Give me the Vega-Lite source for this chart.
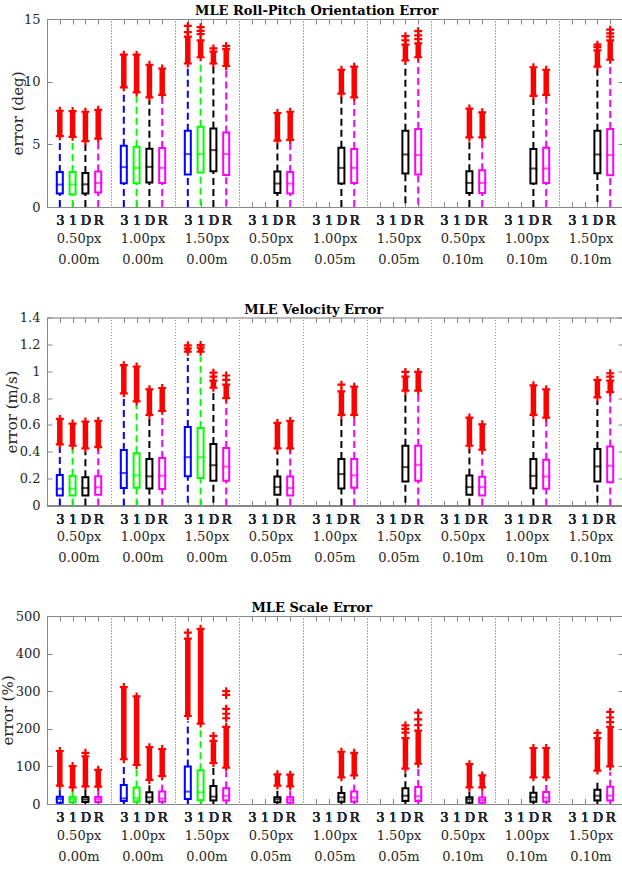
{
  "$schema": "https://vega.github.io/schema/vega-lite/v6.json",
  "background": "white",
  "padding": {"left": 0, "top": 5, "right": 0, "bottom": 0},
  "datasets": {
    "boxes": [
      {"p":"rp","g":"0.50px|0.00m","m":"3","lo":0,"q1":1.07,"med":1.79,"q3":2.8,"hi":5.4,"o1":5.65,"o2":7.68,"pts":[]},
      {"p":"rp","g":"0.50px|0.00m","m":"1","lo":0,"q1":1.0,"med":1.79,"q3":2.8,"hi":5.35,"o1":5.6,"o2":7.65,"pts":[]},
      {"p":"rp","g":"0.50px|0.00m","m":"D","lo":0,"q1":1.07,"med":1.81,"q3":2.72,"hi":5.0,"o1":5.25,"o2":7.6,"pts":[]},
      {"p":"rp","g":"0.50px|0.00m","m":"R","lo":0,"q1":1.15,"med":1.92,"q3":2.83,"hi":5.2,"o1":5.45,"o2":7.75,"pts":[]},
      {"p":"rp","g":"1.00px|0.00m","m":"3","lo":0,"q1":1.9,"med":3.18,"q3":4.88,"hi":9.3,"o1":9.55,"o2":12.15,"pts":[]},
      {"p":"rp","g":"1.00px|0.00m","m":"1","lo":0,"q1":1.9,"med":3.12,"q3":4.8,"hi":8.9,"o1":9.15,"o2":12.15,"pts":[]},
      {"p":"rp","g":"1.00px|0.00m","m":"D","lo":0,"q1":1.95,"med":3.2,"q3":4.64,"hi":8.5,"o1":8.75,"o2":11.35,"pts":[]},
      {"p":"rp","g":"1.00px|0.00m","m":"R","lo":0,"q1":1.92,"med":3.12,"q3":4.7,"hi":8.7,"o1":8.95,"o2":11.05,"pts":[]},
      {"p":"rp","g":"1.50px|0.00m","m":"3","lo":0,"q1":2.59,"med":4.22,"q3":6.08,"hi":11.2,"o1":11.45,"o2":13.6,"pts":[13.95,14.45]},
      {"p":"rp","g":"1.50px|0.00m","m":"1","lo":0.1,"q1":2.75,"med":4.22,"q3":6.4,"hi":11.7,"o1":11.95,"o2":13.3,"pts":[13.8,14.05,14.35]},
      {"p":"rp","g":"1.50px|0.00m","m":"D","lo":0,"q1":2.86,"med":4.54,"q3":6.27,"hi":11.2,"o1":11.45,"o2":12.4,"pts":[12.65]},
      {"p":"rp","g":"1.50px|0.00m","m":"R","lo":0.05,"q1":2.56,"med":4.22,"q3":5.95,"hi":11.0,"o1":11.25,"o2":12.6,"pts":[12.85]},
      {"p":"rp","g":"0.50px|0.05m","m":"D","lo":0,"q1":1.12,"med":1.87,"q3":2.83,"hi":5.05,"o1":5.3,"o2":7.5,"pts":[]},
      {"p":"rp","g":"0.50px|0.05m","m":"R","lo":0,"q1":1.07,"med":1.87,"q3":2.8,"hi":5.1,"o1":5.35,"o2":7.6,"pts":[]},
      {"p":"rp","g":"1.00px|0.05m","m":"D","lo":0,"q1":1.87,"med":3.12,"q3":4.72,"hi":8.8,"o1":9.05,"o2":10.95,"pts":[]},
      {"p":"rp","g":"1.00px|0.05m","m":"R","lo":0,"q1":1.92,"med":3.12,"q3":4.62,"hi":8.5,"o1":8.75,"o2":11.2,"pts":[]},
      {"p":"rp","g":"1.50px|0.05m","m":"D","lo":0.3,"q1":2.67,"med":4.19,"q3":6.08,"hi":11.45,"o1":11.7,"o2":12.95,"pts":[13.3,13.63]},
      {"p":"rp","g":"1.50px|0.05m","m":"R","lo":0.2,"q1":2.59,"med":4.14,"q3":6.22,"hi":11.7,"o1":11.95,"o2":13.05,"pts":[13.4,13.7,14.03]},
      {"p":"rp","g":"0.50px|0.10m","m":"D","lo":0,"q1":1.12,"med":1.92,"q3":2.86,"hi":5.3,"o1":5.55,"o2":7.85,"pts":[]},
      {"p":"rp","g":"0.50px|0.10m","m":"R","lo":0,"q1":1.12,"med":1.92,"q3":2.94,"hi":5.3,"o1":5.55,"o2":7.55,"pts":[]},
      {"p":"rp","g":"1.00px|0.10m","m":"D","lo":0,"q1":1.87,"med":3.07,"q3":4.62,"hi":8.62,"o1":8.87,"o2":11.15,"pts":[]},
      {"p":"rp","g":"1.00px|0.10m","m":"R","lo":0,"q1":1.92,"med":3.07,"q3":4.72,"hi":8.7,"o1":8.95,"o2":10.95,"pts":[]},
      {"p":"rp","g":"1.50px|0.10m","m":"D","lo":0.4,"q1":2.7,"med":4.19,"q3":6.08,"hi":10.94,"o1":11.2,"o2":12.5,"pts":[12.75,12.95]},
      {"p":"rp","g":"1.50px|0.10m","m":"R","lo":0,"q1":2.54,"med":4.14,"q3":6.22,"hi":11.5,"o1":11.75,"o2":13.3,"pts":[13.6,13.85,14.15]},

      {"p":"vel","g":"0.50px|0.00m","m":"3","lo":0,"q1":0.075,"med":0.125,"q3":0.227,"hi":0.43,"o1":0.455,"o2":0.645,"pts":[]},
      {"p":"vel","g":"0.50px|0.00m","m":"1","lo":0,"q1":0.075,"med":0.125,"q3":0.222,"hi":0.42,"o1":0.445,"o2":0.61,"pts":[]},
      {"p":"vel","g":"0.50px|0.00m","m":"D","lo":0,"q1":0.075,"med":0.13,"q3":0.21,"hi":0.4,"o1":0.425,"o2":0.625,"pts":[]},
      {"p":"vel","g":"0.50px|0.00m","m":"R","lo":0,"q1":0.08,"med":0.135,"q3":0.217,"hi":0.41,"o1":0.435,"o2":0.63,"pts":[]},
      {"p":"vel","g":"1.00px|0.00m","m":"3","lo":0,"q1":0.13,"med":0.242,"q3":0.414,"hi":0.81,"o1":0.835,"o2":1.045,"pts":[]},
      {"p":"vel","g":"1.00px|0.00m","m":"1","lo":0,"q1":0.132,"med":0.224,"q3":0.39,"hi":0.75,"o1":0.775,"o2":1.035,"pts":[]},
      {"p":"vel","g":"1.00px|0.00m","m":"D","lo":0,"q1":0.127,"med":0.217,"q3":0.346,"hi":0.65,"o1":0.675,"o2":0.865,"pts":[]},
      {"p":"vel","g":"1.00px|0.00m","m":"R","lo":0,"q1":0.122,"med":0.222,"q3":0.354,"hi":0.68,"o1":0.705,"o2":0.875,"pts":[]},
      {"p":"vel","g":"1.50px|0.00m","m":"3","lo":0.02,"q1":0.217,"med":0.36,"q3":0.585,"hi":1.1,"o1":1.145,"o2":1.17,"pts":[1.193]},
      {"p":"vel","g":"1.50px|0.00m","m":"1","lo":0,"q1":0.204,"med":0.36,"q3":0.578,"hi":1.11,"o1":1.145,"o2":1.175,"pts":[1.195]},
      {"p":"vel","g":"1.50px|0.00m","m":"D","lo":0.02,"q1":0.184,"med":0.3,"q3":0.458,"hi":0.85,"o1":0.877,"o2":0.93,"pts":[0.96,0.989]},
      {"p":"vel","g":"1.50px|0.00m","m":"R","lo":0,"q1":0.184,"med":0.29,"q3":0.428,"hi":0.775,"o1":0.8,"o2":0.9,"pts":[0.935,0.968]},
      {"p":"vel","g":"0.50px|0.05m","m":"D","lo":0,"q1":0.08,"med":0.137,"q3":0.216,"hi":0.4,"o1":0.425,"o2":0.615,"pts":[]},
      {"p":"vel","g":"0.50px|0.05m","m":"R","lo":0,"q1":0.075,"med":0.13,"q3":0.216,"hi":0.4,"o1":0.425,"o2":0.63,"pts":[]},
      {"p":"vel","g":"1.00px|0.05m","m":"D","lo":0,"q1":0.127,"med":0.234,"q3":0.346,"hi":0.65,"o1":0.675,"o2":0.85,"pts":[0.9]},
      {"p":"vel","g":"1.00px|0.05m","m":"R","lo":0,"q1":0.132,"med":0.224,"q3":0.346,"hi":0.65,"o1":0.675,"o2":0.885,"pts":[]},
      {"p":"vel","g":"1.50px|0.05m","m":"D","lo":0.02,"q1":0.179,"med":0.286,"q3":0.445,"hi":0.83,"o1":0.855,"o2":0.96,"pts":[0.995]},
      {"p":"vel","g":"1.50px|0.05m","m":"R","lo":0,"q1":0.184,"med":0.303,"q3":0.445,"hi":0.83,"o1":0.855,"o2":0.995,"pts":[]},
      {"p":"vel","g":"0.50px|0.10m","m":"D","lo":0,"q1":0.08,"med":0.137,"q3":0.224,"hi":0.42,"o1":0.445,"o2":0.655,"pts":[]},
      {"p":"vel","g":"0.50px|0.10m","m":"R","lo":0,"q1":0.075,"med":0.137,"q3":0.214,"hi":0.39,"o1":0.415,"o2":0.605,"pts":[]},
      {"p":"vel","g":"1.00px|0.10m","m":"D","lo":0,"q1":0.129,"med":0.221,"q3":0.346,"hi":0.65,"o1":0.675,"o2":0.895,"pts":[]},
      {"p":"vel","g":"1.00px|0.10m","m":"R","lo":0,"q1":0.124,"med":0.216,"q3":0.341,"hi":0.63,"o1":0.655,"o2":0.865,"pts":[]},
      {"p":"vel","g":"1.50px|0.10m","m":"D","lo":0.02,"q1":0.179,"med":0.291,"q3":0.42,"hi":0.78,"o1":0.805,"o2":0.935,"pts":[]},
      {"p":"vel","g":"1.50px|0.10m","m":"R","lo":0,"q1":0.174,"med":0.296,"q3":0.44,"hi":0.82,"o1":0.845,"o2":0.93,"pts":[0.96,0.985]},

      {"p":"sc","g":"0.50px|0.00m","m":"3","lo":0,"q1":3.6,"med":13.3,"q3":19.6,"hi":40,"o1":49,"o2":141,"pts":[]},
      {"p":"sc","g":"0.50px|0.00m","m":"1","lo":0,"q1":4.4,"med":13,"q3":19.6,"hi":35,"o1":44,"o2":101,"pts":[]},
      {"p":"sc","g":"0.50px|0.00m","m":"D","lo":0,"q1":5,"med":12.5,"q3":18.7,"hi":38,"o1":47,"o2":127,"pts":[136]},
      {"p":"sc","g":"0.50px|0.00m","m":"R","lo":0,"q1":5,"med":13,"q3":18.7,"hi":37,"o1":46,"o2":91,"pts":[]},
      {"p":"sc","g":"1.00px|0.00m","m":"3","lo":0,"q1":8,"med":15,"q3":50.7,"hi":105,"o1":119,"o2":311,"pts":[]},
      {"p":"sc","g":"1.00px|0.00m","m":"1","lo":0,"q1":6.2,"med":15,"q3":43.6,"hi":92,"o1":104,"o2":286,"pts":[]},
      {"p":"sc","g":"1.00px|0.00m","m":"D","lo":0,"q1":6,"med":17.8,"q3":31,"hi":52,"o1":64,"o2":151,"pts":[]},
      {"p":"sc","g":"1.00px|0.00m","m":"R","lo":0,"q1":6,"med":15,"q3":33,"hi":60,"o1":74,"o2":146,"pts":[]},
      {"p":"sc","g":"1.50px|0.00m","m":"3","lo":0,"q1":13.3,"med":33,"q3":99.6,"hi":220,"o1":234,"o2":440,"pts":[456]},
      {"p":"sc","g":"1.50px|0.00m","m":"1","lo":0,"q1":9.8,"med":31,"q3":90,"hi":200,"o1":214,"o2":466,"pts":[]},
      {"p":"sc","g":"1.50px|0.00m","m":"D","lo":0,"q1":9,"med":19.6,"q3":48,"hi":98,"o1":109,"o2":168,"pts":[181]},
      {"p":"sc","g":"1.50px|0.00m","m":"R","lo":0,"q1":9,"med":22,"q3":41.8,"hi":85,"o1":97,"o2":205,"pts":[228,240,253,290,300]},
      {"p":"sc","g":"0.50px|0.05m","m":"D","lo":0,"q1":4.4,"med":12.5,"q3":17.8,"hi":35,"o1":49,"o2":79,"pts":[]},
      {"p":"sc","g":"0.50px|0.05m","m":"R","lo":0,"q1":3.6,"med":11.6,"q3":17.8,"hi":35,"o1":47,"o2":78,"pts":[]},
      {"p":"sc","g":"1.00px|0.05m","m":"D","lo":0,"q1":6.2,"med":17.8,"q3":29.4,"hi":55,"o1":71,"o2":139,"pts":[]},
      {"p":"sc","g":"1.00px|0.05m","m":"R","lo":0,"q1":6.2,"med":17,"q3":33,"hi":52,"o1":76,"o2":136,"pts":[]},
      {"p":"sc","g":"1.50px|0.05m","m":"D","lo":0,"q1":8,"med":22,"q3":41.8,"hi":82,"o1":94,"o2":175,"pts":[190,200,209]},
      {"p":"sc","g":"1.50px|0.05m","m":"R","lo":0,"q1":8,"med":20.5,"q3":45.4,"hi":95,"o1":107,"o2":195,"pts":[210,225,243]},
      {"p":"sc","g":"0.50px|0.10m","m":"D","lo":0,"q1":3.6,"med":12.5,"q3":17.8,"hi":33,"o1":44,"o2":106,"pts":[]},
      {"p":"sc","g":"0.50px|0.10m","m":"R","lo":0,"q1":3.6,"med":10.7,"q3":17,"hi":33,"o1":44,"o2":76,"pts":[]},
      {"p":"sc","g":"1.00px|0.10m","m":"D","lo":0,"q1":6.2,"med":17.8,"q3":30,"hi":50,"o1":71,"o2":149,"pts":[]},
      {"p":"sc","g":"1.00px|0.10m","m":"R","lo":0,"q1":6.2,"med":17,"q3":32,"hi":52,"o1":71,"o2":149,"pts":[]},
      {"p":"sc","g":"1.50px|0.10m","m":"D","lo":0,"q1":9,"med":22,"q3":38,"hi":58,"o1":89,"o2":175,"pts":[189]},
      {"p":"sc","g":"1.50px|0.10m","m":"R","lo":0,"q1":9,"med":22,"q3":46,"hi":85,"o1":100,"o2":205,"pts":[218,230,245]}
    ]
  },
  "vconcat": [
    {
      "title": "MLE Roll-Pitch Orientation Error",
      "data": {"name": "boxes"},
      "transform": [{"filter": "datum.p === 'rp'"}],
      "facet": {"column": {"field": "g", "type": "nominal", "title": null,
        "sort": ["0.50px|0.00m","1.00px|0.00m","1.50px|0.00m","0.50px|0.05m","1.00px|0.05m","1.50px|0.05m","0.50px|0.10m","1.00px|0.10m","1.50px|0.10m"],
        "header": {"labelOrient": "bottom", "labelExpr": "split(datum.value, '|')"}}},
      "spacing": 0,
      "bounds": "flush",
      "spec": {
        "width": 64, "height": 188,
        "encoding": {
          "x": {"field": "m", "type": "nominal", "sort": null, "scale": {"type": "point", "domain": ["3","1","D","R"], "padding": 1}, "axis": {"orient": "bottom", "title": null}},
          "color": {"field": "m", "type": "nominal", "scale": {"domain": ["3","1","D","R"], "range": ["#0000ff","#00ff00","#000000","#ff00ff"]}, "legend": null}
        },
        "layer": [
          {"mark": {"type": "rule", "strokeWidth": 2, "strokeDash": [7, 4]},
           "encoding": {"y": {"field": "lo", "type": "quantitative", "scale": {"domain": [0, 15], "nice": false, "zero": false}, "axis": null}, "y2": {"field": "q1"}}},
          {"mark": {"type": "rule", "strokeWidth": 2, "strokeDash": [7, 4]},
           "encoding": {"y": {"field": "q3", "type": "quantitative", "scale": {"domain": [0, 15], "nice": false, "zero": false}, "axis": null}, "y2": {"field": "hi"}}},
          {"mark": {"type": "rule", "strokeWidth": 5.5},
           "encoding": {"y": {"field": "o1", "type": "quantitative", "scale": {"domain": [0, 15], "nice": false, "zero": false}, "axis": null}, "y2": {"field": "o2"}, "color": {"value": "#ff0000"}}},
          {"transform": [{"fold": ["o1", "o2"], "as": ["end", "v"]}],
           "mark": {"type": "point", "shape": "M-1,0H1M0,-1V1", "filled": false, "size": 64, "strokeWidth": 2.2, "opacity": 1},
           "encoding": {"y": {"field": "v", "type": "quantitative", "scale": {"domain": [0, 15], "nice": false, "zero": false}, "axis": null}, "color": {"value": "#ff0000"}}},
          {"transform": [{"flatten": ["pts"], "as": ["pt"]}],
           "mark": {"type": "point", "shape": "M-1,0H1M0,-1V1", "filled": false, "size": 64, "strokeWidth": 2.2, "opacity": 1},
           "encoding": {"y": {"field": "pt", "type": "quantitative", "scale": {"domain": [0, 15], "nice": false, "zero": false}, "axis": null}, "color": {"value": "#ff0000"}}},
          {"mark": {"type": "bar", "filled": false, "width": 6, "strokeWidth": 2},
           "encoding": {"y": {"field": "q1", "type": "quantitative", "scale": {"domain": [0, 15], "nice": false, "zero": false}, "axis": {"orient": "left", "title": "error (deg)", "values": [0, 5, 10, 15], "titleX": -22}}, "y2": {"field": "q3"}}},
          {"mark": {"type": "tick", "thickness": 2, "size": 8},
           "encoding": {
             "x": {"field": "m", "type": "nominal", "sort": null, "scale": {"type": "point", "domain": ["3","1","D","R"], "padding": 1}, "axis": {"orient": "top", "labels": false, "title": null}},
             "y": {"field": "med", "type": "quantitative", "scale": {"domain": [0, 15], "nice": false, "zero": false}, "axis": {"orient": "right", "labels": false, "title": null, "values": [0, 5, 10, 15]}}}}
        ]
      }
    },
    {
      "title": "MLE Velocity Error",
      "data": {"name": "boxes"},
      "transform": [{"filter": "datum.p === 'vel'"}],
      "facet": {"column": {"field": "g", "type": "nominal", "title": null,
        "sort": ["0.50px|0.00m","1.00px|0.00m","1.50px|0.00m","0.50px|0.05m","1.00px|0.05m","1.50px|0.05m","0.50px|0.10m","1.00px|0.10m","1.50px|0.10m"],
        "header": {"labelOrient": "bottom", "labelExpr": "split(datum.value, '|')"}}},
      "spacing": 0,
      "bounds": "flush",
      "spec": {
        "width": 64, "height": 188,
        "encoding": {
          "x": {"field": "m", "type": "nominal", "sort": null, "scale": {"type": "point", "domain": ["3","1","D","R"], "padding": 1}, "axis": {"orient": "bottom", "title": null}},
          "color": {"field": "m", "type": "nominal", "scale": {"domain": ["3","1","D","R"], "range": ["#0000ff","#00ff00","#000000","#ff00ff"]}, "legend": null}
        },
        "layer": [
          {"mark": {"type": "rule", "strokeWidth": 2, "strokeDash": [7, 4]},
           "encoding": {"y": {"field": "lo", "type": "quantitative", "scale": {"domain": [0, 1.4], "nice": false, "zero": false}, "axis": null}, "y2": {"field": "q1"}}},
          {"mark": {"type": "rule", "strokeWidth": 2, "strokeDash": [7, 4]},
           "encoding": {"y": {"field": "q3", "type": "quantitative", "scale": {"domain": [0, 1.4], "nice": false, "zero": false}, "axis": null}, "y2": {"field": "hi"}}},
          {"mark": {"type": "rule", "strokeWidth": 5.5},
           "encoding": {"y": {"field": "o1", "type": "quantitative", "scale": {"domain": [0, 1.4], "nice": false, "zero": false}, "axis": null}, "y2": {"field": "o2"}, "color": {"value": "#ff0000"}}},
          {"transform": [{"fold": ["o1", "o2"], "as": ["end", "v"]}],
           "mark": {"type": "point", "shape": "M-1,0H1M0,-1V1", "filled": false, "size": 64, "strokeWidth": 2.2, "opacity": 1},
           "encoding": {"y": {"field": "v", "type": "quantitative", "scale": {"domain": [0, 1.4], "nice": false, "zero": false}, "axis": null}, "color": {"value": "#ff0000"}}},
          {"transform": [{"flatten": ["pts"], "as": ["pt"]}],
           "mark": {"type": "point", "shape": "M-1,0H1M0,-1V1", "filled": false, "size": 64, "strokeWidth": 2.2, "opacity": 1},
           "encoding": {"y": {"field": "pt", "type": "quantitative", "scale": {"domain": [0, 1.4], "nice": false, "zero": false}, "axis": null}, "color": {"value": "#ff0000"}}},
          {"mark": {"type": "bar", "filled": false, "width": 6, "strokeWidth": 2},
           "encoding": {"y": {"field": "q1", "type": "quantitative", "scale": {"domain": [0, 1.4], "nice": false, "zero": false}, "axis": {"orient": "left", "title": "error (m/s)", "values": [0, 0.2, 0.4, 0.6, 0.8, 1, 1.2, 1.4], "format": "~g", "titleX": -28}}, "y2": {"field": "q3"}}},
          {"mark": {"type": "tick", "thickness": 2, "size": 8},
           "encoding": {
             "x": {"field": "m", "type": "nominal", "sort": null, "scale": {"type": "point", "domain": ["3","1","D","R"], "padding": 1}, "axis": {"orient": "top", "labels": false, "title": null}},
             "y": {"field": "med", "type": "quantitative", "scale": {"domain": [0, 1.4], "nice": false, "zero": false}, "axis": {"orient": "right", "labels": false, "title": null, "values": [0, 0.2, 0.4, 0.6, 0.8, 1, 1.2, 1.4]}}}}
        ]
      }
    },
    {
      "title": "MLE Scale Error",
      "data": {"name": "boxes"},
      "transform": [{"filter": "datum.p === 'sc'"}],
      "facet": {"column": {"field": "g", "type": "nominal", "title": null,
        "sort": ["0.50px|0.00m","1.00px|0.00m","1.50px|0.00m","0.50px|0.05m","1.00px|0.05m","1.50px|0.05m","0.50px|0.10m","1.00px|0.10m","1.50px|0.10m"],
        "header": {"labelOrient": "bottom", "labelExpr": "split(datum.value, '|')"}}},
      "spacing": 0,
      "bounds": "flush",
      "spec": {
        "width": 64, "height": 188,
        "encoding": {
          "x": {"field": "m", "type": "nominal", "sort": null, "scale": {"type": "point", "domain": ["3","1","D","R"], "padding": 1}, "axis": {"orient": "bottom", "title": null}},
          "color": {"field": "m", "type": "nominal", "scale": {"domain": ["3","1","D","R"], "range": ["#0000ff","#00ff00","#000000","#ff00ff"]}, "legend": null}
        },
        "layer": [
          {"mark": {"type": "rule", "strokeWidth": 2, "strokeDash": [7, 4]},
           "encoding": {"y": {"field": "lo", "type": "quantitative", "scale": {"domain": [0, 500], "nice": false, "zero": false}, "axis": null}, "y2": {"field": "q1"}}},
          {"mark": {"type": "rule", "strokeWidth": 2, "strokeDash": [7, 4]},
           "encoding": {"y": {"field": "q3", "type": "quantitative", "scale": {"domain": [0, 500], "nice": false, "zero": false}, "axis": null}, "y2": {"field": "hi"}}},
          {"mark": {"type": "rule", "strokeWidth": 5.5},
           "encoding": {"y": {"field": "o1", "type": "quantitative", "scale": {"domain": [0, 500], "nice": false, "zero": false}, "axis": null}, "y2": {"field": "o2"}, "color": {"value": "#ff0000"}}},
          {"transform": [{"fold": ["o1", "o2"], "as": ["end", "v"]}],
           "mark": {"type": "point", "shape": "M-1,0H1M0,-1V1", "filled": false, "size": 64, "strokeWidth": 2.2, "opacity": 1},
           "encoding": {"y": {"field": "v", "type": "quantitative", "scale": {"domain": [0, 500], "nice": false, "zero": false}, "axis": null}, "color": {"value": "#ff0000"}}},
          {"transform": [{"flatten": ["pts"], "as": ["pt"]}],
           "mark": {"type": "point", "shape": "M-1,0H1M0,-1V1", "filled": false, "size": 64, "strokeWidth": 2.2, "opacity": 1},
           "encoding": {"y": {"field": "pt", "type": "quantitative", "scale": {"domain": [0, 500], "nice": false, "zero": false}, "axis": null}, "color": {"value": "#ff0000"}}},
          {"mark": {"type": "bar", "filled": false, "width": 6, "strokeWidth": 2},
           "encoding": {"y": {"field": "q1", "type": "quantitative", "scale": {"domain": [0, 500], "nice": false, "zero": false}, "axis": {"orient": "left", "title": "error (%)", "values": [0, 100, 200, 300, 400, 500], "titleX": -32}}, "y2": {"field": "q3"}}},
          {"mark": {"type": "tick", "thickness": 2, "size": 8},
           "encoding": {
             "x": {"field": "m", "type": "nominal", "sort": null, "scale": {"type": "point", "domain": ["3","1","D","R"], "padding": 1}, "axis": {"orient": "top", "labels": false, "title": null}},
             "y": {"field": "med", "type": "quantitative", "scale": {"domain": [0, 500], "nice": false, "zero": false}, "axis": {"orient": "right", "labels": false, "title": null, "values": [0, 100, 200, 300, 400, 500]}}}}
        ]
      }
    }
  ],
  "spacing": 36.5,
  "resolve": {"scale": {"x": "independent", "y": "independent"}},
  "config": {
    "font": "DejaVu Serif",
    "view": {"stroke": "#8f8f8f", "strokeDash": [1, 2], "strokeWidth": 1},
    "axis": {"grid": false, "domainColor": "#858585", "tickColor": "#858585", "tickSize": -5, "labelColor": "#262626", "titleColor": "#262626", "labelFont": "DejaVu Serif", "labelFontSize": 13, "titleFont": "DejaVu Serif", "titleFontSize": 15, "titleFontWeight": "normal", "labelAngle": 0, "labelOverlap": false},
    "axisX": {"labelPadding": 12.5},
    "axisY": {"labelPadding": 12},
    "header": {"labelFont": "DejaVu Serif", "labelFontSize": 13, "labelColor": "#262626", "labelLineHeight": 21, "labelPadding": 5, "labelBaseline": "top"},
    "title": {"font": "DejaVu Serif", "fontSize": 13, "fontWeight": "bold", "color": "#000000", "anchor": "middle", "offset": -5, "baseline": "alphabetic"}
  }
}
